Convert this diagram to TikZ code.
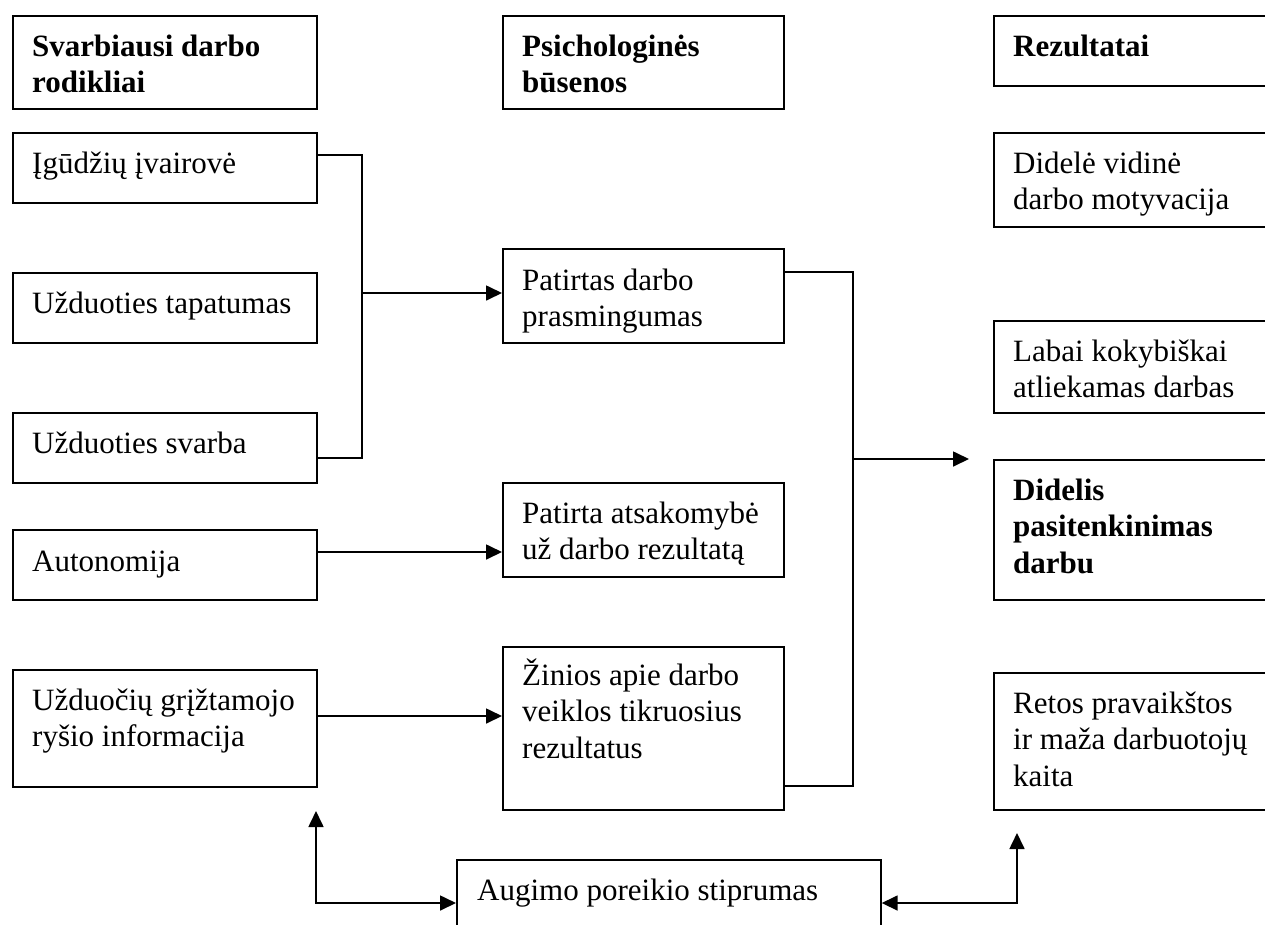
\documentclass[tikz,border=0pt]{standalone}
\usepackage{fontspec}
\setmainfont{Liberation Serif}
\usetikzlibrary{arrows.meta}
\newcommand\ts{\rule{0pt}{30pt}}
\begin{document}
\begin{tikzpicture}[x=1pt,y=-1pt,
  box/.style={draw, line width=1.7pt, rectangle, inner sep=0pt, anchor=north west},
  txt/.style={inner sep=0pt, anchor=north west, align=left, font=\fontsize{31}{36.5}\selectfont},
  btxt/.style={txt, font=\fontsize{31}{36.5}\selectfont\bfseries},
  con/.style={line width=1.7pt},
  arr/.style={con, -{Triangle[length=16pt,width=15pt]}},
  dbl/.style={con, {Triangle[length=16pt,width=15pt]}-{Triangle[length=16pt,width=15pt]}}]
\path[use as bounding box, clip] (0,0) rectangle (1265,924);
% left column
\node[box, minimum width=304, minimum height=93] (h1) at (12,15) {};
\node[btxt] (h1t) at ([shift={(20pt,-11pt)}]h1.north west) {\ts Svarbiausi darbo\\rodikliai};
\node[box, minimum width=304, minimum height=70] (s1) at (12,132) {};
\node[txt] (s1t) at ([shift={(20pt,-11pt)}]s1.north west) {\ts Įgūdžių įvairovė};
\node[box, minimum width=304, minimum height=70] (s2) at (12,272) {};
\node[txt] (s2t) at ([shift={(20pt,-11pt)}]s2.north west) {\ts Užduoties tapatumas};
\node[box, minimum width=304, minimum height=70] (s3) at (12,412) {};
\node[txt] (s3t) at ([shift={(20pt,-11pt)}]s3.north west) {\ts Užduoties svarba};
\node[box, minimum width=304, minimum height=70] (s4) at (12,529) {};
\node[txt] (s4t) at ([shift={(20pt,-12pt)}]s4.north west) {\ts Autonomija};
\node[box, minimum width=304, minimum height=117] (s5) at (12,669) {};
\node[txt] (s5t) at ([shift={(20pt,-11pt)}]s5.north west) {\ts Užduočių grįžtamojo\\ryšio informacija};
% middle column
\node[box, minimum width=281, minimum height=93] (h2) at (502,15) {};
\node[btxt] (h2t) at ([shift={(20pt,-11pt)}]h2.north west) {\ts Psichologinės\\būsenos};
\node[box, minimum width=281, minimum height=94] (p1) at (502,248) {};
\node[txt] (p1t) at ([shift={(20pt,-12pt)}]p1.north west) {\ts Patirtas darbo\\prasmingumas};
\node[box, minimum width=281, minimum height=94] (p2) at (502,482) {};
\node[txt] (p2t) at ([shift={(20pt,-11pt)}]p2.north west) {\ts Patirta atsakomybė\\už darbo rezultatą};
\node[box, minimum width=281, minimum height=163] (p3) at (502,646) {};
\node[txt] (p3t) at ([shift={(20pt,-9pt)}]p3.north west) {\ts Žinios apie darbo\\veiklos tikruosius\\rezultatus};
% right column
\node[box, minimum width=290, minimum height=70] (h3) at (993,15) {};
\node[btxt] (h3t) at ([shift={(20pt,-11pt)}]h3.north west) {\ts Rezultatai};
\node[box, minimum width=290, minimum height=94] (r1) at (993,132) {};
\node[txt] (r1t) at ([shift={(20pt,-11pt)}]r1.north west) {\ts Didelė vidinė\\darbo motyvacija};
\node[box, minimum width=290, minimum height=92] (r2) at (993,320) {};
\node[txt] (r2t) at ([shift={(20pt,-11pt)}]r2.north west) {\ts Labai kokybiškai\\atliekamas darbas};
\node[box, minimum width=290, minimum height=140] (r3) at (993,459) {};
\node[btxt] (r3t) at ([shift={(20pt,-11pt)}]r3.north west) {\ts Didelis\\pasitenkinimas\\darbu};
\node[box, minimum width=290, minimum height=137] (r4) at (993,672) {};
\node[txt] (r4t) at ([shift={(20pt,-11pt)}]r4.north west) {\ts Retos pravaikštos\\ir maža darbuotojų\\kaita};
% bottom
\node[box, minimum width=424, minimum height=80] (g) at (456,859) {};
\node[txt] (gt) at ([shift={(21pt,-11pt)}]g.north west) {\ts Augimo poreikio stiprumas};
% junction coordinates
\coordinate (ja) at (362,155);
\coordinate (jb) at (362,458);
\coordinate (jm) at (362,293);
\coordinate (ya) at (0,552);
\coordinate (yb) at (0,716);
\coordinate (ka) at (853,272);
\coordinate (kb) at (853,786);
\coordinate (km) at (853,459);
\coordinate (kt) at (969,459);
\coordinate (la) at (316,903);
\coordinate (lt) at (316,811);
\coordinate (ra) at (1017,903);
\coordinate (rt) at (1017,833);
% connectors
\draw[con] (s1.east |- ja) -- (ja) -- (jb) -- (s3.east |- jb);
\draw[arr] (jm) -- (jm -| p1.west);
\draw[arr] (s4.east |- ya) -- (p2.west |- ya);
\draw[arr] (s5.east |- yb) -- (p3.west |- yb);
\draw[con] (p1.east |- ka) -- (ka) -- (kb) -- (p3.east |- kb);
\draw[arr] (km) -- (kt);
\draw[dbl] (lt) -- (la) -- (g.west |- la);
\draw[dbl] (g.east |- ra) -- (ra) -- (rt);
\end{tikzpicture}
\end{document}
